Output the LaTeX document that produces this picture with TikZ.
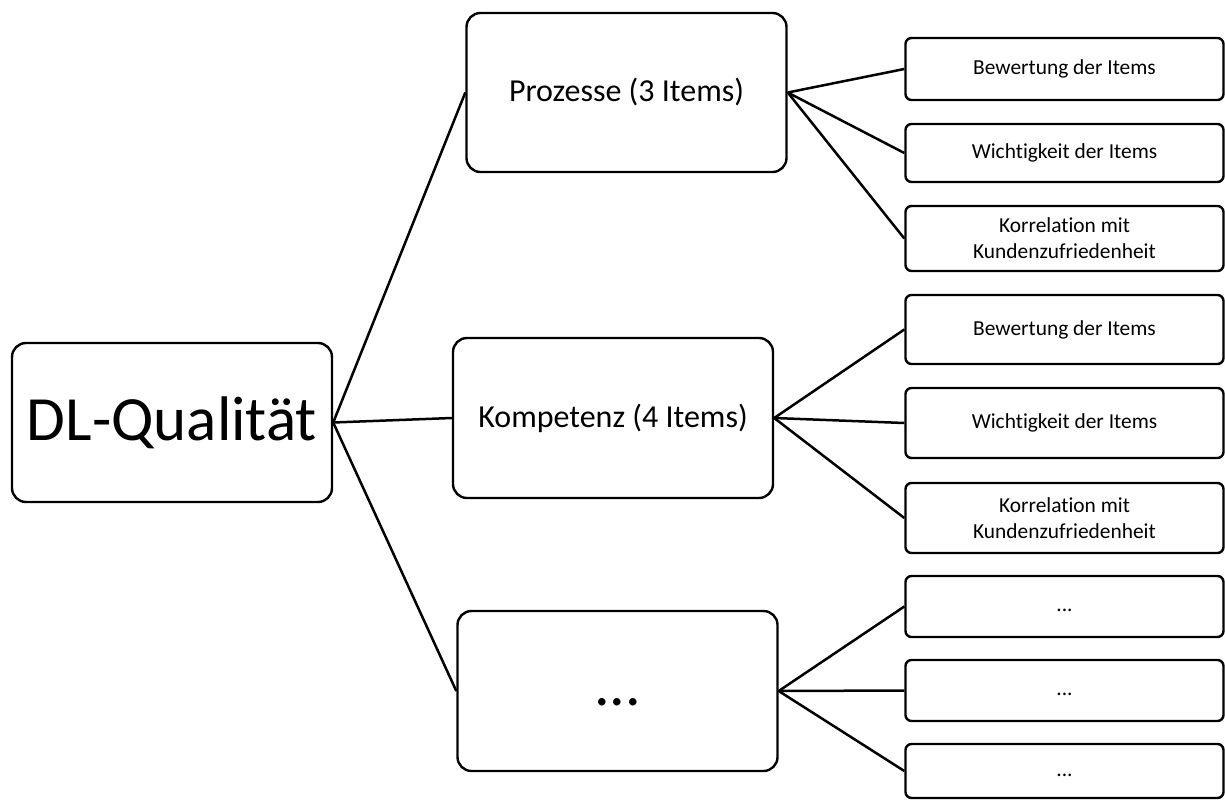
\documentclass[tikz,border=0pt]{standalone}
\usepackage{fontspec}
\setmainfont{Carlito}[Ligatures=NoCommon]
\begin{document}
\begin{tikzpicture}[x=1pt,y=-1pt,
  box/.style={draw=black,line width=2.4pt,fill=white,inner sep=0pt,align=center},
  rootbox/.style={box,rounded corners=14pt,minimum width=320pt,minimum height=159pt,font=\fontsize{63}{76}\selectfont},
  midbox/.style={box,rounded corners=14pt,minimum width=320pt,minimum height=159pt,font=\fontsize{32}{38}\selectfont},
  leafbox/.style={box,rounded corners=6pt,minimum width=318pt,font=\fontsize{21.4}{26}\selectfont},
  link/.style={draw=black,line width=2.5pt}]
\useasboundingbox (0,0) rectangle (1225,800);

% root and second level
\node[rootbox] (root) at (172,422.5) {DL-Qualität};
\node[midbox] (proz) at (626.5,92.5) {Prozesse (3 Items)};
\node[midbox,minimum height=160pt] (komp) at (613,418) {Kompetenz (4 Items)};
\node[midbox,minimum height=160pt,font=\fontsize{62}{70}\selectfont] (more) at (617.5,691) {\vphantom{Ig}...};

% third level
\node[leafbox,minimum height=62pt] (p1) at (1064.5,69) {Bewertung der Items};
\node[leafbox,minimum height=58pt] (p2) at (1064.5,153) {Wichtigkeit der Items};
\node[leafbox,minimum height=65pt] (p3) at (1064.5,238.5) {Korrelation mit\\Kundenzufriedenheit};
\node[leafbox,minimum height=69pt] (k1) at (1064.5,329.5) {Bewertung der Items};
\node[leafbox,minimum height=70pt] (k2) at (1064.5,423) {Wichtigkeit der Items};
\node[leafbox,minimum height=70pt] (k3) at (1064.5,518) {Korrelation mit\\Kundenzufriedenheit};
\node[leafbox,minimum height=61pt] (m1) at (1064.5,606.5) {\vphantom{Ig}...};
\node[leafbox,minimum height=61pt] (m2) at (1064.5,690.5) {\vphantom{Ig}...};
\node[leafbox,minimum height=54pt] (m3) at (1064.5,771) {\vphantom{Ig}...};

% connectors
\foreach \t in {proz,komp,more}
  \draw[link] (root.east) -- (\t.west);
\foreach \t in {p1,p2,p3}
  \draw[link] (proz.east) -- (\t.west);
\foreach \t in {k1,k2,k3}
  \draw[link] (komp.east) -- (\t.west);
\foreach \t in {m1,m2,m3}
  \draw[link] (more.east) -- (\t.west);
\end{tikzpicture}
\end{document}
